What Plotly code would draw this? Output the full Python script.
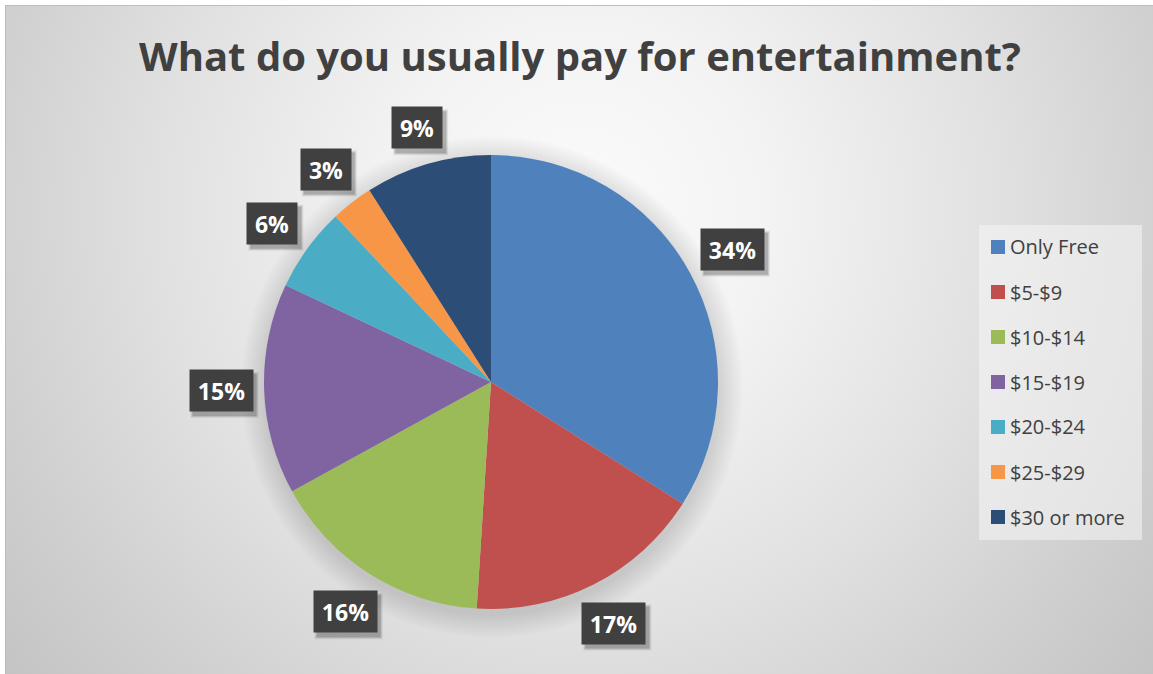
import base64
import math
import plotly.graph_objects as go

# ---- data ----
categories = ["Only Free", "$5-$9", "$10-$14", "$15-$19", "$20-$24", "$25-$29", "$30 or more"]
shares = [34, 17, 16, 15, 6, 3, 9]
colors = ["#4F81BD", "#C0504D", "#9BBB59", "#8064A2", "#4BACC6", "#F79646", "#2C4D75"]
title_text = "What do you usually pay for entertainment?"

# ---- canvas / layout geometry (pixels) ----
W, H = 1153, 674
CX, CY, R = 491, 382, 227          # pie centre and radius
LABEL_GAP = 11                      # gap between pie edge and nearest edge of a value box
TEXT_COLOR = "#404040"
FONT = "Open Sans"


def px(x, y):
    """Pixel position -> paper fraction."""
    return x / W, 1 - y / H


# chart-area background: light radial gradient framed by a thin grey line
bg_svg = f"""<svg xmlns='http://www.w3.org/2000/svg' width='{W}' height='{H}'>
<defs><radialGradient id='g' gradientUnits='userSpaceOnUse' cx='580' cy='210' r='760'>
<stop offset='0' stop-color='#fbfbfb'/>
<stop offset='0.25' stop-color='#f3f3f3'/>
<stop offset='0.55' stop-color='#e1e1e1'/>
<stop offset='0.8' stop-color='#cfcfcf'/>
<stop offset='1' stop-color='#c2c2c2'/>
</radialGradient></defs>
<rect x='0' y='0' width='{W}' height='{H}' fill='#ffffff'/>
<rect x='5.5' y='5.5' width='{W + 20}' height='{H + 20}' fill='url(#g)' stroke='#bdbdbd' stroke-width='1'/>
</svg>"""
bg_uri = "data:image/svg+xml;base64," + base64.b64encode(bg_svg.encode()).decode()

dx0, dy1 = px(CX - R, CY - R)
dx1, dy0 = px(CX + R, CY + R)

fig = go.Figure(
    go.Pie(
        labels=categories,
        values=shares,
        marker=dict(colors=colors, line=dict(width=0)),
        sort=False,
        direction="clockwise",
        rotation=0,
        textinfo="none",
        hoverinfo="label+percent",
        showlegend=False,
        domain=dict(x=[dx0, dx1], y=[dy0, dy1]),
    )
)

shapes = []
annotations = []

# diffuse shadow under the pie
for i in range(10):
    g = 2 + i * 2.4
    x0, y1 = px(CX - R - g + 1, CY - R - g + 5)
    x1, y0 = px(CX + R + g + 1, CY + R + g + 5)
    shapes.append(dict(type="circle", xref="paper", yref="paper", x0=x0, x1=x1, y0=y0, y1=y1,
                       fillcolor="rgba(0,0,0,0.012)", line=dict(width=0), layer="below"))

# value boxes placed just outside each slice at its mid-angle
total = sum(shares)
cum = 0
for v in shares:
    mid = (cum + v / 2) / total * 2 * math.pi
    cum += v
    txt = f"{round(v / total * 100)}%"
    bw = 24 + 13 * len(txt)
    bh = 41
    sn, cs = math.sin(mid), math.cos(mid)
    # half-extent of the box along the radial direction
    reach = bw / 2 * abs(sn) + bh / 2 * abs(cs)
    d = R + LABEL_GAP + reach
    lx = CX + d * sn
    ly = CY - d * cs
    # drop shadow
    for k, a in enumerate([0.07, 0.10, 0.14]):
        s = 2 - k
        sx0, sy1 = px(lx - bw / 2 + 3 - s, ly - bh / 2 + 4 - s)
        sx1, sy0 = px(lx + bw / 2 + 4 + s, ly + bh / 2 + 5 + s)
        shapes.append(dict(type="rect", xref="paper", yref="paper", x0=sx0, x1=sx1, y0=sy0, y1=sy1,
                           fillcolor=f"rgba(0,0,0,{a})", line=dict(width=0), layer="above"))
    ax, ay = px(lx, ly)
    annotations.append(dict(
        x=ax, y=ay, xref="paper", yref="paper", xanchor="center", yanchor="middle",
        text=f"<b>{txt}</b>", showarrow=False, width=bw, height=bh,
        bgcolor="#404040", borderpad=0,
        font=dict(family=FONT, size=23, color="white"),
    ))

# legend panel
lx0, ly1 = px(979, 225)
lx1, ly0 = px(1142, 540)
shapes.append(dict(type="rect", xref="paper", yref="paper", x0=lx0, x1=lx1, y0=ly0, y1=ly1,
                   fillcolor="rgba(245,245,245,0.55)", line=dict(width=0), layer="below"))
LEG_TOP, LEG_STEP = 247, 45
for i, (name, c) in enumerate(zip(categories, colors)):
    yc = LEG_TOP + i * LEG_STEP
    sx0, sy1 = px(991, yc - 7)
    sx1, sy0 = px(1005, yc + 7)
    shapes.append(dict(type="rect", xref="paper", yref="paper", x0=sx0, x1=sx1, y0=sy0, y1=sy1,
                       fillcolor=c, line=dict(width=0)))
    tx, ty = px(1008, yc)
    annotations.append(dict(
        x=tx, y=ty, xref="paper", yref="paper", xanchor="left", yanchor="middle",
        text=name, showarrow=False, font=dict(family=FONT, size=20, color=TEXT_COLOR),
    ))

# chart title
tx, ty = px(580, 56)
annotations.append(dict(
    x=tx, y=ty, xref="paper", yref="paper", xanchor="center", yanchor="middle",
    text=f"<b>{title_text}</b>", showarrow=False,
    font=dict(family=FONT, size=40, color=TEXT_COLOR),
))

fig.update_layout(
    width=W, height=H,
    margin=dict(l=0, r=0, t=0, b=0),
    paper_bgcolor="white",
    plot_bgcolor="white",
    images=[dict(source=bg_uri, xref="paper", yref="paper", x=0, y=1, sizex=1, sizey=1,
                 xanchor="left", yanchor="top", sizing="stretch", layer="below")],
    shapes=shapes,
    annotations=annotations,
)

fig.write_html("out.html", config={"displayModeBar": False})
